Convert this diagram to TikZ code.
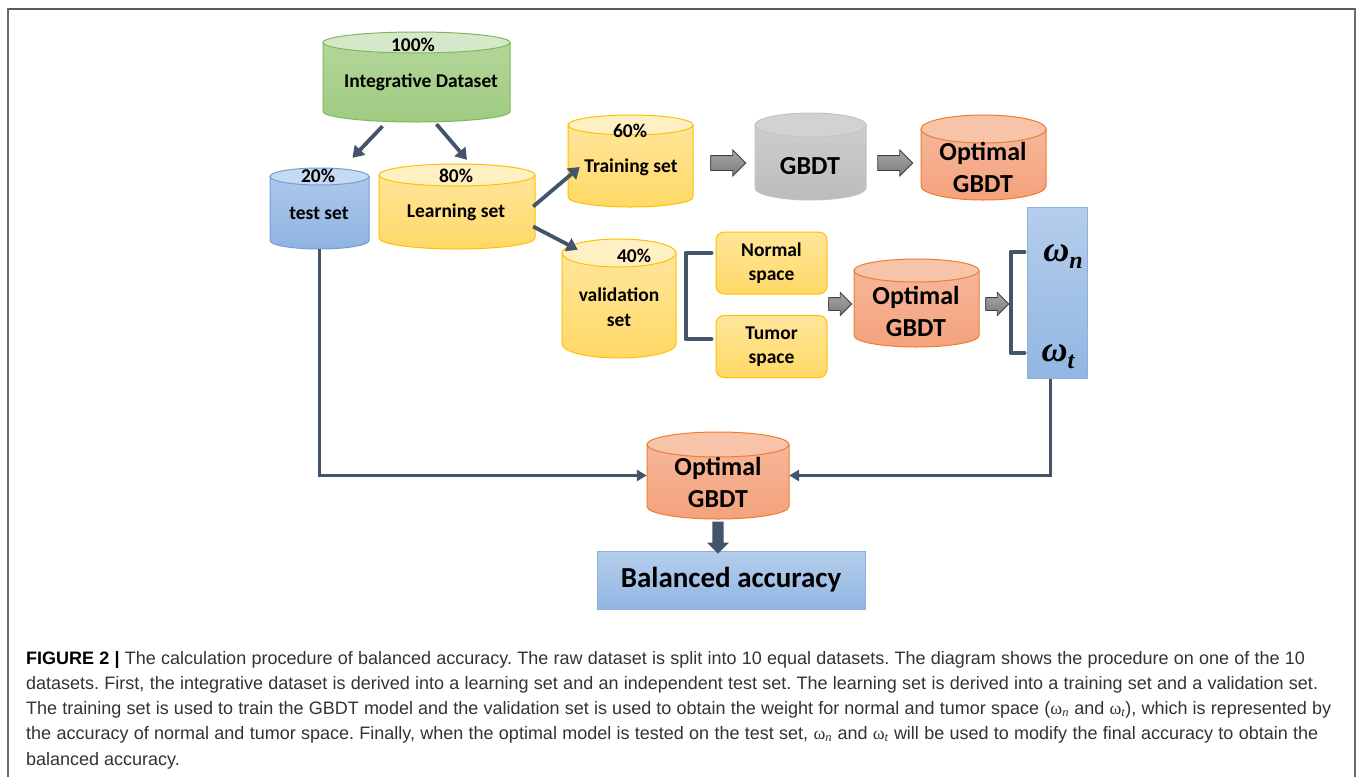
\documentclass[tikz,border=0pt]{standalone}
\usepackage{fontspec}
\setmainfont{Carlito}
\newfontfamily\capfont{Liberation Sans}
\newfontfamily\wserif{Liberation Serif}
\usetikzlibrary{arrows.meta,shapes.arrows}

\definecolor{grnT}{HTML}{D5E8C9}\definecolor{grnA}{HTML}{B3D69A}\definecolor{grnB}{HTML}{9FCB80}\definecolor{grnD}{HTML}{7FB85A}
\definecolor{bluT}{HTML}{C6DAF1}\definecolor{bluA}{HTML}{ADC8EA}\definecolor{bluB}{HTML}{8FB3E2}\definecolor{bluD}{HTML}{6E9FD8}
\definecolor{yelT}{HTML}{FFF0C4}\definecolor{yelA}{HTML}{FFE59A}\definecolor{yelB}{HTML}{FFD966}\definecolor{yelD}{HTML}{FFC000}
\definecolor{gryT}{HTML}{D2D2D2}\definecolor{gryA}{HTML}{CDCDCD}\definecolor{gryB}{HTML}{BCBCBC}\definecolor{gryD}{HTML}{C4C4C4}
\definecolor{orgT}{HTML}{F7C4AA}\definecolor{orgA}{HTML}{F6B699}\definecolor{orgB}{HTML}{F4A27C}\definecolor{orgD}{HTML}{ED7D31}
\definecolor{darkarr}{HTML}{44546A}
\definecolor{blkA}{HTML}{A8A8A8}\definecolor{blkB}{HTML}{7A7A7A}\definecolor{blkD}{HTML}{404040}
\definecolor{boxA}{HTML}{B5CEEC}\definecolor{boxB}{HTML}{92B6E2}\definecolor{boxD}{HTML}{8AB0E0}
\definecolor{capgray}{HTML}{333333}
\definecolor{framegray}{HTML}{6A6A6A}

\newcommand{\cyl}[7]{%
  \pgfmathsetmacro{\cylcx}{(#2+#4)/2}%
  \pgfmathsetmacro{\cylrx}{(#4-#2)/2}%
  \pgfmathsetmacro{\cylw}{#4-#2}%
  \pgfmathsetmacro{\cylyt}{#3+#6}%
  \pgfmathsetmacro{\cylyb}{#5-#6}%
  \pgfmathsetmacro{\cylcy}{(#3+#5)/2}%
  \pgfmathsetmacro{\cylh}{#5-#3}%
  \path[top color=#7A, bottom color=#7B, draw=#7D, line width=1pt]
    (#2,\cylyt) -- (#2,\cylyb) arc[start angle=180, end angle=360, x radius=\cylrx pt, y radius=#6 pt] -- (#4,\cylyt) -- cycle;
  \path[fill=#7T, draw=#7D, line width=1pt] (\cylcx,\cylyt) ellipse[x radius=\cylrx pt, y radius=#6 pt];
  \node[inner sep=0pt, minimum width=\cylw pt, minimum height=\cylh pt] (#1) at (\cylcx,\cylcy) {};
}
\newcommand{\capw}[1]{{\wserif ω}\textsubscript{\wserif\itshape #1}}
\newcommand{\bigw}[1]{{\wserif\bfseries\itshape ω\raisebox{-7pt}{\fontsize{24}{24}\selectfont #1}}}

\tikzset{
  dk/.style={draw=darkarr, line width=3.8pt, -{Triangle[length=11pt,width=14pt]}},
  dkline/.style={draw=darkarr, line width=3pt, -{Triangle[length=10pt,width=11pt]}},
  bracket/.style={draw=darkarr, line width=4pt, line join=round, line cap=round},
  blk/.style={single arrow, single arrow head indent=0pt,
     draw=blkD, line width=0.8pt, top color=blkA, bottom color=blkB},
  lbl/.style={font=\fontsize{19.5}{24}\selectfont\bfseries, inner sep=0pt, align=center, text=black},
  big/.style={font=\fontsize{26}{32}\selectfont\bfseries, inner sep=0pt, align=center, text=black},
  spacebox/.style={rounded corners=8pt, draw=yelD, line width=1pt, top color=yelA, bottom color=yelB,
     minimum width=111pt, minimum height=62pt, inner sep=0pt},
  bluebox/.style={draw=boxD, line width=1pt, top color=boxA, bottom color=boxB, inner sep=0pt},
  thickarr/.style={single arrow, shape border rotate=270, fill=darkarr, draw=none, inner sep=5.5pt,
     minimum height=32pt, single arrow head extend=5.5pt, single arrow head indent=0pt},
  captext/.style={font=\capfont\fontsize{18}{22}\selectfont\frenchspacing, text=capgray, inner sep=0pt, anchor=base west},
  omega/.style={font=\fontsize{36}{36}\selectfont, inner sep=0pt, text=black}
}

\begin{document}
\begin{tikzpicture}[x=1pt,y=-1pt]
\useasboundingbox (0,0) rectangle (1358,777);
\fill[white] (0,0) rectangle (1358,777);

% frame
\draw[framegray!85!black, line width=2pt] (8,8.5) -- (1355,8.5);
\draw[framegray, line width=1.3pt] (8,8) -- (8,777);
\draw[framegray, line width=2pt] (1355,8) -- (1355,777);

% cylinders
\cyl{int}{323}{32}{510}{122}{10.5}{grn}
\cyl{test}{270}{168}{369}{249}{8.5}{blu}
\cyl{learn}{379}{164}{535}{249}{11}{yel}
\cyl{train}{568}{115}{693}{207}{10}{yel}
\cyl{gbdt}{755}{113}{866}{200}{12}{gry}
\cyl{optA}{921}{115}{1046}{200}{14}{org}
\cyl{valid}{562}{239}{676}{358}{14}{yel}
\cyl{optB}{854}{259}{979}{347}{11.5}{org}
\cyl{optC}{647}{432}{789}{519}{12.5}{org}

% cylinder texts
\node[lbl] (t-int1) at (413,45) {100\%};
\node[lbl] (t-int2) at (421,82) {Integrative Dataset};
\node[lbl] (t-test1) at (318,176) {20\%};
\node[lbl] (t-test2) at (319,213) {test set};
\node[lbl] (t-learn1) at (456,176) {80\%};
\node[lbl] (t-learn2) at (456,212) {Learning set};
\node[lbl] (t-train1) at (630,131) {60\%};
\node[lbl] (t-train2) at (631,167) {Training set};
\node[big] (t-gbdt) at (810,166) {GBDT};
\node[big] (t-optA) at (983,167) {Optimal\\GBDT};
\node[lbl] (t-valid1) at (634,256) {40\%};
\node[lbl, font=\fontsize{19.5}{25}\selectfont\bfseries] (t-valid2) at (619,307) {validation\\set};
\node[big] (t-optB) at (916,311) {Optimal\\GBDT};
\node[big] (t-optC) at (718,482) {Optimal\\GBDT};

% boxes
\node[spacebox, lbl] (normal) at (771.5,263) {Normal\\space};
\node[spacebox, lbl] (tumor) at (771.5,346.5) {Tumor\\space};
\node[bluebox, minimum width=60pt, minimum height=171pt] (wrect) at (1057,292.5) {};
\node[omega] (wn) at (1063,257) {\bigw{n}};
\node[omega] (wt) at (1058,357) {\bigw{t}};
\node[bluebox, minimum width=268pt, minimum height=58pt, font=\fontsize{29}{32}\selectfont\bfseries] (bal) at (731,580) {Balanced accuracy};

% block arrows
\node[blk, inner sep=7pt, single arrow head extend=5.5pt, minimum height=35pt] (ba1) at (724.5,163) {};
\node[blk, inner sep=7pt, single arrow head extend=5.5pt, minimum height=35pt] (ba2) at (891.5,163) {};
\node[blk, inner sep=6pt, single arrow head extend=5pt, minimum height=23pt] (ba3) at (837,304) {};
\node[blk, inner sep=6pt, single arrow head extend=5pt, minimum height=23pt] (ba4) at (994,304) {};

% brackets
\draw[bracket] ([xshift=-4pt,yshift=10pt]normal.west) -- ++(-26,0) -- ++(0,86) -- ++(26,0);
\draw[bracket] ([xshift=-2pt,yshift=40.5pt]wrect.west) -- ++(-14,0) -- ++(0,101) -- ++(14,0);

% dark arrows
\draw[dk] ([xshift=-34pt,yshift=-4pt]int.south) -- ([xshift=33pt,yshift=10pt]test.north);
\draw[dk] ([xshift=20pt,yshift=-2pt]int.south) -- ([xshift=10pt,yshift=4pt]learn.north);
\draw[dk] ([xshift=-2pt]learn.east) -- ([xshift=12pt,yshift=-6pt]train.west);
\draw[dk] ([xshift=-2pt,yshift=-20pt]learn.east) -- ([xshift=16pt,yshift=-11pt]valid.north west);

\draw[dkline] (test.south) |- (optC.west);
\draw[dkline] ([xshift=-7pt]wrect.south) |- (optC.east);
\path (optC.south) -- (optC.south |- bal.north) node[midway, thickarr] (down) {};

% caption
\node[captext] (cap1) at (26,664) {\makebox[1279pt][s]{\textbf{\color{black}FIGURE 2 |} The calculation procedure of balanced accuracy. The raw dataset is split into 10 equal datasets. The diagram shows the procedure on one of the 10}};
\node[captext] (cap2) at (26,689) {\makebox[1292pt][s]{datasets. First, the integrative dataset is derived into a learning set and an independent test set. The learning set is derived into a training set and a validation set.}};
\node[captext] (cap3) at (26,714) {\makebox[1305pt][s]{The training set is used to train the GBDT model and the validation set is used to obtain the weight for normal and tumor space (\capw{n} and \capw{t}), which is represented by}};
\node[captext] (cap4) at (26,739) {\makebox[1292pt][s]{the accuracy of normal and tumor space. Finally, when the optimal model is tested on the test set, \capw{n} and \capw{t} will be used to modify the final accuracy to obtain the}};
\node[captext] (cap5) at (26,765) {balanced accuracy.};
\end{tikzpicture}
\end{document}
